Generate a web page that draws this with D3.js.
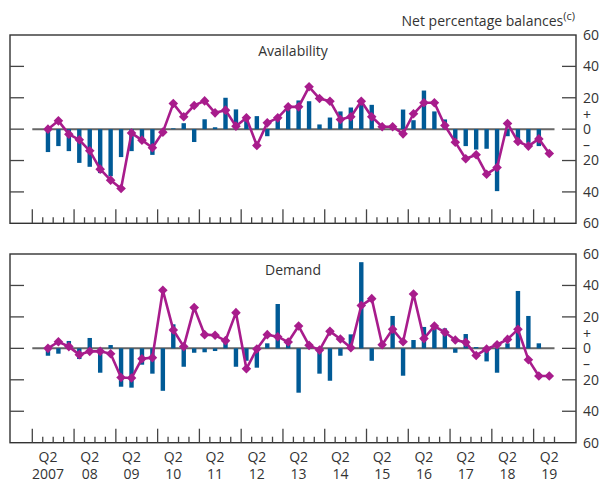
<!DOCTYPE html>
<html>
  <head>
    <meta charset="utf-8">
    <title>Availability and demand balances</title>
    <style>
      body { margin: 0; background: #fff; }
      text { font-family: "Open Sans", "Noto Sans", sans-serif; fill: #333; }
      .frame { fill: none; stroke: #333; stroke-width: 1.4; }
      .tick { stroke: #444; stroke-width: 1.3; }
      .zero { stroke: #666; stroke-width: 2; }
      .bar { fill: #005a96; }
      .line { fill: none; stroke: #a81c8c; stroke-width: 2.6; stroke-linejoin: round; }
      .dot { fill: #a81c8c; }
    </style>
  </head>
  <body>
    <div id="chart"></div>
    <script src="https://d3js.org/d3.v7.min.js"></script>
    <script>

    // quarters on the axis run from Q1 2007 to Q2 2019, data from Q2 2007
    var years = [2007, 2008, 2009, 2010, 2011, 2012, 2013, 2014, 2015, 2016, 2017, 2018, 2019];
    var yearLabels = ['2007', '08', '09', '10', '11', '12', '13', '14', '15', '16', '17', '18', '19'];
    var yTicks = [60, 40, 20, 0, -20, -40, -60];

    var availBars = [-14.6, -10.8, -14, -21.5, -24, -28, -30, -17.8, -14, -8.5,
      -16.4, 0, 0.5, 3.8, -8.2, 6.3, 1.2, 20, 12.6, 7.5,
      8.3, -4.5, 6, 12.5, 18.3, 17.8, 3, 7.4, 11.3, 13.8,
      16.5, 15.5, 1, 1, 12.5, 5.7, 24.6, 11.3, 6.2, -6.6,
      -10.8, -13, -12.5, -39.5, -4.5, -7.6, -8.7, -10.8, null];
    var availLine = [0, 5.3, -3.2, -6.8, -13.8, -25.5, -32.5, -37.8, -2.5, -7,
      -11.9, -1.9, 16.3, 7.9, 15.1, 18, 10.4, 12.1, 1.9, 7.2,
      -10.4, 4, 7.2, 14.2, 14.2, 27, 19.5, 17.8, 6.2, 7.9,
      17.8, 7.9, 1.5, 1.5, -3, 9.8, 16.8, 16.8, 2.3, -8.3,
      -18.9, -16.3, -28.7, -24.4, 3.6, -7.9, -10.8, -6.2, -15.5];

    var demandBars = [-4.7, -3.4, 4.7, -6.8, 6.6, -15.5, 2.1, -24.4, -25, -10.4,
      -16.1, -27, 15.3, -11.7, -2.8, -2.5, -1.7, 3.6, -11.7, -7.9,
      -12.3, 3.2, 28.2, 3.5, -28.2, 1.5, -16.1, -20.6, -4.7, 8.9,
      54.8, -7.9, 0, 20.6, -17.4, 5.3, 13.6, 13, 12.7, -2.8,
      9.1, 0.8, -8.3, -15.5, 3.2, 36.5, 20.6, 3.2, null];
    var demandLine = [0, 4.2, 1.1, -4, -1.9, -1.9, -3.4, -18.5, -18.9, -6.6,
      -5.9, 36.9, 11.7, 1.1, 25.9, 8.7, 8.3, 4.9, 22.7, -13,
      -0.4, 8.7, 7.4, 4, 14.2, 1.9, -1.1, 10.8, 5.9, 0.4,
      27.2, 31.6, 2.3, 12.1, 4.2, 34.6, 6.2, 14.2, 10.2, 5.3,
      3.8, -4.5, -0.4, 2.3, 5.7, 12.1, -7.2, -17.6, -17.6];

    function drawChart() {
      var width = 602, height = 484;
      var frameL = 10, frameR = 576;

      // all quarters shown on the axis
      var quarters = [];
      years.forEach(function(y) {
        for (var q = 1; q <= 4; q++) {
          if (y == 2019 && q > 2) break;
          quarters.push(y + ' Q' + q);
        }
      });
      var dataQuarters = quarters.slice(1);

      var x = d3.scaleBand()
        .domain(quarters)
        .range([32.3, 554.5])
        .paddingInner(0);
      var bw = x.bandwidth();
      var cx = function(q) { return x(q) + bw / 2; };

      var svg = d3.select('#chart')
        .append('svg')
        .attr('width', width)
        .attr('height', height);

      var panels = [
        { title: 'Availability', bars: availBars, line: availLine, top: 35, bottom: 223.3, titleY: 56 },
        { title: 'Demand', bars: demandBars, line: demandLine, top: 254, bottom: 442.7, titleY: 275 }
      ];

      panels.forEach(function(p) {
        var y = d3.scaleLinear().domain([-60, 60]).range([p.bottom, p.top]);
        var g = svg.append('g');

        g.append('rect')
          .attr('class', 'frame')
          .attr('x', frameL).attr('y', p.top)
          .attr('width', frameR - frameL).attr('height', p.bottom - p.top);

        // y ticks inside both sides
        var inner = yTicks.filter(function(t) { return Math.abs(t) < 60; });
        g.selectAll('.ytl').data(inner).enter().append('line')
          .attr('class', 'tick')
          .attr('x1', frameL).attr('x2', frameL + 14)
          .attr('y1', function(d) { return y(d); }).attr('y2', function(d) { return y(d); });
        g.selectAll('.ytr').data(inner).enter().append('line')
          .attr('class', 'tick')
          .attr('x1', frameR - 14).attr('x2', frameR)
          .attr('y1', function(d) { return y(d); }).attr('y2', function(d) { return y(d); });

        // right axis labels
        g.selectAll('.ylab').data(yTicks).enter().append('text')
          .attr('x', 583)
          .attr('y', function(d) { return y(d); })
          .attr('dy', '0.35em')
          .style('font-size', '14px')
          .text(function(d) { return Math.abs(d); });
        g.append('text').attr('x', 583).attr('y', y(9)).attr('dy', '0.35em')
          .style('font-size', '14px').text('+');
        g.append('text').attr('x', 583).attr('y', y(-10)).attr('dy', '0.35em')
          .style('font-size', '14px').text('\u2013');

        // x ticks: majors at year starts, minors at quarter boundaries
        var bounds = quarters.map(function(q) { return { pos: x(q), major: /Q1$/.test(q) }; });
        bounds.push({ pos: x(quarters[quarters.length - 1]) + bw, major: false });
        g.selectAll('.xt').data(bounds).enter().append('line')
          .attr('class', 'tick')
          .attr('x1', function(d) { return d.pos; }).attr('x2', function(d) { return d.pos; })
          .attr('y1', function(d) { return p.bottom - (d.major ? 14 : 6); })
          .attr('y2', p.bottom);

        // zero line
        g.append('line')
          .attr('class', 'zero')
          .attr('x1', x(quarters[0])).attr('x2', x(quarters[quarters.length - 1]) + bw)
          .attr('y1', y(0)).attr('y2', y(0));

        // bars
        var barData = p.bars.map(function(v, i) { return { q: dataQuarters[i], v: v }; })
          .filter(function(d) { return d.v !== null; });
        g.selectAll('.bar').data(barData).enter().append('rect')
          .attr('class', 'bar')
          .attr('x', function(d) { return cx(d.q) - 2.2; })
          .attr('width', 4.4)
          .attr('y', function(d) { return y(Math.max(0, d.v)); })
          .attr('height', function(d) { return Math.abs(y(d.v) - y(0)); });

        // line with diamonds
        var lineData = p.line.map(function(v, i) { return { q: dataQuarters[i], v: v }; });
        var line = d3.line()
          .x(function(d) { return cx(d.q); })
          .y(function(d) { return y(d.v); });
        g.append('path').datum(lineData)
          .attr('class', 'line')
          .attr('d', line);
        g.selectAll('.dot').data(lineData).enter().append('path')
          .attr('class', 'dot')
          .attr('d', d3.symbol().type(d3.symbolSquare).size(46))
          .attr('transform', function(d) {
            return 'translate(' + cx(d.q) + ',' + y(d.v) + ') rotate(45)';
          });

        g.append('text')
          .attr('x', 293).attr('y', p.titleY)
          .attr('text-anchor', 'middle')
          .style('font-size', '14px')
          .text(p.title);
      });

      // x labels
      var labelG = svg.append('g');
      years.forEach(function(yr, i) {
        var qx = cx(yr + ' Q2');
        labelG.append('text')
          .attr('x', qx).attr('y', 462)
          .attr('text-anchor', 'middle')
          .style('font-size', '14px')
          .text('Q2');
        labelG.append('text')
          .attr('x', qx).attr('y', 479)
          .attr('text-anchor', 'middle')
          .style('font-size', '14px')
          .text(yearLabels[i]);
      });

      // units note
      var note = svg.append('text')
        .attr('x', 575).attr('y', 26)
        .attr('text-anchor', 'end')
        .style('font-size', '14px');
      note.append('tspan').text('Net percentage balances');
      note.append('tspan').attr('dy', -6).style('font-size', '11px').text('(c)');
    }
    drawChart();
    </script>
  </body>
</html>
